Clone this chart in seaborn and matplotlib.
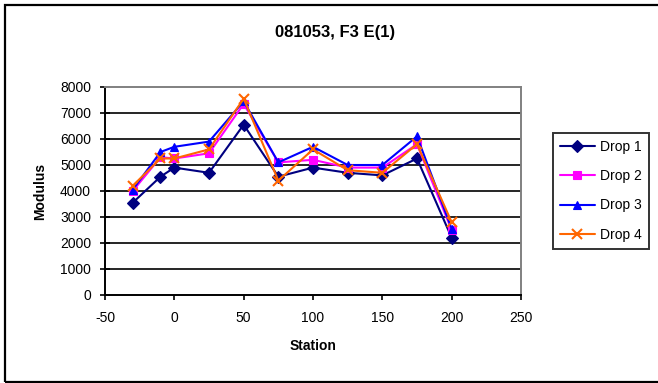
import matplotlib
matplotlib.use("Agg")
import matplotlib.pyplot as plt
from matplotlib.patches import Rectangle
import pandas as pd
import seaborn as sns

# Station positions and the modulus measured for each drop
stations = [-30, -10, 0, 25, 50, 75, 100, 125, 150, 175, 200]
drop1 = [3550, 4550, 4900, 4700, 6550, 4550, 4900, 4700, 4600, 5250, 2200]
drop2 = [4000, 5300, 5250, 5450, 7350, 5100, 5200, 4900, 4900, 5800, 2500]
drop3 = [4050, 5500, 5700, 5900, 7450, 5100, 5700, 5000, 5000, 6100, 2550]
drop4 = [4200, 5250, 5250, 5600, 7550, 4400, 5600, 4800, 4700, 5800, 2800]
series_names = ["Drop 1", "Drop 2", "Drop 3", "Drop 4"]
x_ticks = [-50, 0, 50, 100, 150, 200, 250]
y_ticks = [0, 1000, 2000, 3000, 4000, 5000, 6000, 7000, 8000]
title = "081053, F3 E(1)"

series_colors = ["#000080", "#FF00FF", "#0000FF", "#FF6600"]
series_markers = ["D", "s", "^", "x"]

sns.set_theme(style="white")
plt.rcParams["font.family"] = ["Liberation Sans", "DejaVu Sans"]

fig = plt.figure(figsize=(6.58, 3.83), dpi=100)
ax = fig.add_axes([105 / 658, 1 - 295 / 383, (521 - 105) / 658, (295 - 87) / 383])

# horizontal gridlines behind the data
for yv in y_ticks[1:-1]:
    ax.axhline(yv, color="black", lw=1.2, zorder=0)

for name, vals, col, mk in zip(series_names, [drop1, drop2, drop3, drop4],
                               series_colors, series_markers):
    d = pd.DataFrame({"Station": stations, "Modulus": vals})
    sns.lineplot(data=d, x="Station", y="Modulus", color=col, marker=mk,
                 markersize=6 if mk != "x" else 7, markeredgewidth=1.5 if mk == "x" else 0.8,
                 markeredgecolor=col, linewidth=1.5, label=name, ax=ax, sort=False)

ax.set_xlim(-50, 250)
ax.set_ylim(0, 8000)
ax.set_xticks(x_ticks)
ax.set_yticks(y_ticks)
ax.set_xticklabels([str(t) for t in x_ticks])
ax.set_yticklabels([str(t) for t in y_ticks])
ax.grid(False)

for side in ["left", "bottom"]:
    ax.spines[side].set_color("black")
    ax.spines[side].set_linewidth(1.4)
for side in ["top", "right"]:
    ax.spines[side].set_color("#808080")
    ax.spines[side].set_linewidth(1.4)

ax.tick_params(axis="y", direction="inout", length=7, width=1.2, color="black",
               left=True, pad=6.5, labelsize=10, labelcolor="black")
ax.tick_params(axis="x", direction="out", length=3.6, width=1.2, color="black",
               bottom=True, pad=8, labelsize=10, labelcolor="black")

ax.set_xlabel("Station", fontsize=10, fontweight="bold", labelpad=10, color="black")
ax.set_ylabel("Modulus", fontsize=10, fontweight="bold", labelpad=9, color="black")

fig.text(335 / 658, 1 - 33 / 383, title, ha="center", va="center",
         fontsize=12, fontweight="bold", color="black")

handles, labels = ax.get_legend_handles_labels()
leg = ax.legend(handles, labels, loc="upper left",
                bbox_to_anchor=(553 / 658, 1 - 133 / 383), bbox_transform=fig.transFigure,
                frameon=True, fancybox=False, fontsize=10, handlelength=2.5,
                handletextpad=0.4, labelspacing=1.1, borderpad=0.5,
                borderaxespad=0)
leg.get_frame().set_edgecolor("black")
leg.get_frame().set_linewidth(1.4)
for t in leg.get_texts():
    t.set_color("black")

# chart area border
fig.patches.append(Rectangle((5 / 658, 1 / 383), 1.05, 377 / 383, transform=fig.transFigure,
                             fill=False, edgecolor="black", linewidth=1.6, figure=fig))

fig.savefig("out.png", dpi=100, facecolor="white")
